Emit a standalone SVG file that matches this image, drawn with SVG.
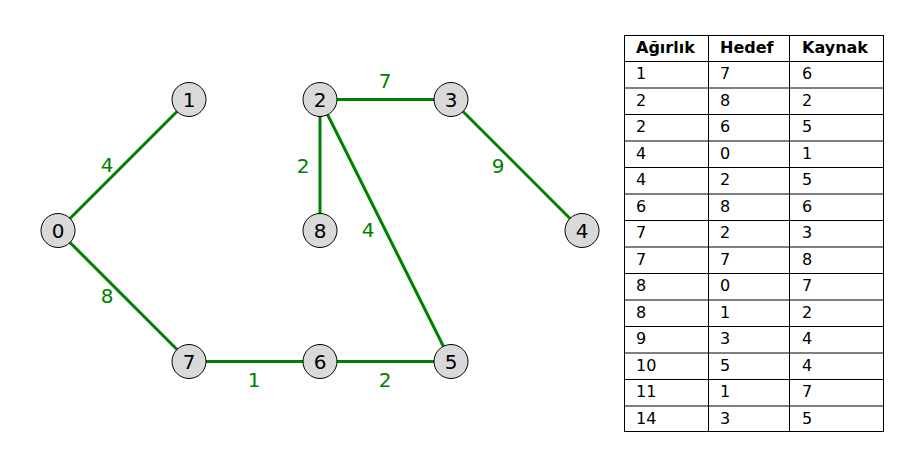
<svg xmlns="http://www.w3.org/2000/svg" width="919" height="473" viewBox="0 0 919 473">
<style>
.edge{stroke:#008000;stroke-width:3;fill:none}
.node circle{fill:#d9d9d9;stroke:#000;stroke-width:1}
.node text{font-family:"DejaVu Sans",sans-serif;font-size:20px;fill:#000;text-anchor:middle}
.wl{font-family:"DejaVu Sans",sans-serif;font-size:20px;fill:#008000;text-anchor:middle}
.grid{stroke:#000;stroke-width:1;fill:none}
.th{font-family:"DejaVu Sans",sans-serif;font-size:16px;font-weight:bold;fill:#000}
.td{font-family:"DejaVu Sans",sans-serif;font-size:16px;fill:#000}
</style>
<rect width="919" height="473" fill="#fff"/>
<g id="connectors">
<line class="edge" x1="58" y1="230.5" x2="189" y2="99.5"/>
<line class="edge" x1="58" y1="230.5" x2="189" y2="361.5"/>
<line class="edge" x1="189" y1="361.5" x2="320" y2="361.5"/>
<line class="edge" x1="320" y1="361.5" x2="451" y2="361.5"/>
<line class="edge" x1="320" y1="99.5" x2="451" y2="99.5"/>
<line class="edge" x1="320" y1="99.5" x2="320" y2="230.5"/>
<line class="edge" x1="320" y1="99.5" x2="451" y2="361.5"/>
<line class="edge" x1="451" y1="99.5" x2="582" y2="230.5"/>
<text class="wl" x="107" y="172">4</text>
<text class="wl" x="107" y="303">8</text>
<text class="wl" x="385" y="88">7</text>
<text class="wl" x="498" y="173">9</text>
<text class="wl" x="303" y="173">2</text>
<text class="wl" x="368" y="237">4</text>
<text class="wl" x="254" y="387">1</text>
<text class="wl" x="385" y="387">2</text>
</g>
<g id="n0" class="node"><circle cx="58" cy="230.5" r="17"/><text x="58" y="237.5">0</text></g>
<g id="n1" class="node"><circle cx="189" cy="99.5" r="17"/><text x="189" y="106.5">1</text></g>
<g id="n2" class="node"><circle cx="320" cy="99.5" r="17"/><text x="320" y="106.5">2</text></g>
<g id="n3" class="node"><circle cx="451" cy="99.5" r="17"/><text x="451" y="106.5">3</text></g>
<g id="n4" class="node"><circle cx="582" cy="230.5" r="17"/><text x="582" y="237.5">4</text></g>
<g id="n8" class="node"><circle cx="320" cy="230.5" r="17"/><text x="320" y="237.5">8</text></g>
<g id="n7" class="node"><circle cx="189" cy="361.5" r="17"/><text x="189" y="368.5">7</text></g>
<g id="n6" class="node"><circle cx="320" cy="361.5" r="17"/><text x="320" y="368.5">6</text></g>
<g id="n5" class="node"><circle cx="451" cy="361.5" r="17"/><text x="451" y="368.5">5</text></g>
<g id="table">
<rect class="grid" x="624.5" y="35.5" width="259" height="396"/>
<line class="grid" x1="708.5" y1="35.5" x2="708.5" y2="431.5"/>
<line class="grid" x1="789.5" y1="35.5" x2="789.5" y2="431.5"/>
<path class="grid" d="M624.5 61.5H883.5M624.5 88H883.5M624.5 114.5H883.5M624.5 141H883.5M624.5 167.5H883.5M624.5 194H883.5M624.5 220.5H883.5M624.5 247H883.5M624.5 273.5H883.5M624.5 300H883.5M624.5 326.5H883.5M624.5 353H883.5M624.5 379.5H883.5M624.5 406H883.5"/>
<text class="th" x="636" y="53">Ağırlık</text><text class="th" x="720" y="53">Hedef</text><text class="th" x="802" y="53">Kaynak</text>
<g class="td">
<text x="636" y="79">1</text><text x="720" y="79">7</text><text x="802" y="79">6</text>
<text x="636" y="105.5">2</text><text x="720" y="105.5">8</text><text x="802" y="105.5">2</text>
<text x="636" y="132">2</text><text x="720" y="132">6</text><text x="802" y="132">5</text>
<text x="636" y="158.5">4</text><text x="720" y="158.5">0</text><text x="802" y="158.5">1</text>
<text x="636" y="185">4</text><text x="720" y="185">2</text><text x="802" y="185">5</text>
<text x="636" y="211.5">6</text><text x="720" y="211.5">8</text><text x="802" y="211.5">6</text>
<text x="636" y="238">7</text><text x="720" y="238">2</text><text x="802" y="238">3</text>
<text x="636" y="264.5">7</text><text x="720" y="264.5">7</text><text x="802" y="264.5">8</text>
<text x="636" y="291">8</text><text x="720" y="291">0</text><text x="802" y="291">7</text>
<text x="636" y="317.5">8</text><text x="720" y="317.5">1</text><text x="802" y="317.5">2</text>
<text x="636" y="344">9</text><text x="720" y="344">3</text><text x="802" y="344">4</text>
<text x="636" y="370.5">10</text><text x="720" y="370.5">5</text><text x="802" y="370.5">4</text>
<text x="636" y="397">11</text><text x="720" y="397">1</text><text x="802" y="397">7</text>
<text x="636" y="423.5">14</text><text x="720" y="423.5">3</text><text x="802" y="423.5">5</text>
</g>
</g>
</svg>
